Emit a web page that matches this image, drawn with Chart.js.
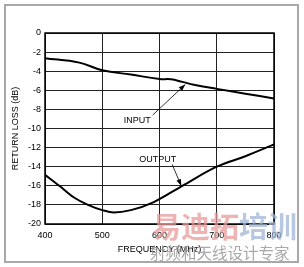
<!DOCTYPE html>
<html>
<head>
<meta charset="utf-8">
<script src="https://cdn.jsdelivr.net/npm/chart.js@4"></script>
<style>
  html, body { margin: 0; padding: 0; background: #fff; }
  #wrap { position: relative; width: 304px; height: 267px; }
  #frame { position: absolute; left: 4px; top: 4px; width: 291px; height: 255px; border: 2px solid #a8a8a8; }
  .wm { position: absolute; font-family: "Noto Sans CJK SC", sans-serif; font-weight: bold; white-space: nowrap; }
</style>
</head>
<body>
<div id="wrap">
  <canvas id="rlChart" width="304" height="267"></canvas>
  <div id="frame"></div>
  <div class="wm" style="left:152px; top:208px; font-size:29px; line-height:34px; opacity:0.75;"><span style="color:#e89a9a">易迪拓</span><span style="color:#9fb6d6">培训</span></div>
  <div class="wm" style="left:150px; top:243px; font-size:15.5px; line-height:18px; color:#9a9a9a; font-weight:normal; opacity:0.85;">射频和天线设计专家</div>
</div>
<script>
// 数据
const inputFreq = [400, 460, 500, 550, 600, 620, 640, 660, 700, 750, 800];
const inputLoss = [-2.64, -3.1, -3.9, -4.35, -4.82, -4.85, -5.12, -5.42, -5.85, -6.35, -6.85];
const outputFreq = [400, 425, 450, 475, 500, 520, 550, 590, 640, 700, 750, 800];
const outputLoss = [-14.86, -16.0, -17.2, -18.0, -18.55, -18.8, -18.55, -17.7, -16.0, -14.0, -12.9, -11.67];
const xTicks = [400, 500, 600, 700, 800];
const yTicks = [0, -2, -4, -6, -8, -10, -12, -14, -16, -18, -20];

// 标注 (数据坐标)
const notes = [
    { text: 'INPUT', x: 561, y: -9.2, from: [588, -8.6], to: [645, -5.4] },
    { text: 'OUTPUT', x: 597, y: -13.2, from: [622, -13.75], to: [638, -16.0] }
];

const font = { family: 'Arial, "Liberation Sans", sans-serif', size: 9 };

const notePlugin = {
    id: 'notes',
    afterDatasetsDraw(chart) {
        const c = chart.ctx;
        const xs = chart.scales.x, ys = chart.scales.y;
        c.save();
        c.font = '9px Arial, "Liberation Sans", sans-serif';
        c.fillStyle = '#000';
        c.strokeStyle = '#000';
        c.textAlign = 'center';
        c.textBaseline = 'middle';
        notes.forEach(n => {
            c.fillText(n.text, xs.getPixelForValue(n.x), ys.getPixelForValue(n.y));
            const x1 = xs.getPixelForValue(n.from[0]), y1 = ys.getPixelForValue(n.from[1]);
            const x2 = xs.getPixelForValue(n.to[0]), y2 = ys.getPixelForValue(n.to[1]);
            c.lineWidth = 0.8;
            c.beginPath();
            c.moveTo(x1, y1);
            c.lineTo(x2, y2);
            c.stroke();
            const a = Math.atan2(y2 - y1, x2 - x1);
            c.beginPath();
            c.moveTo(x2, y2);
            c.lineTo(x2 - 7 * Math.cos(a - 0.35), y2 - 7 * Math.sin(a - 0.35));
            c.lineTo(x2 - 7 * Math.cos(a + 0.35), y2 - 7 * Math.sin(a + 0.35));
            c.closePath();
            c.fill();
        });
        // 外框
        const ca = chart.chartArea;
        c.lineWidth = 1.5;
        c.strokeRect(ca.left, ca.top, ca.right - ca.left, ca.bottom - ca.top);
        c.restore();
    }
};

const ctx = document.getElementById('rlChart').getContext('2d');
const rlChart = new Chart(ctx, {
    type: 'line',
    data: {
        datasets: [{
            label: 'INPUT',
            data: inputFreq.map((f, i) => ({ x: f, y: inputLoss[i] })),
            borderColor: '#000',
            borderWidth: 2,
            pointRadius: 0,
            tension: 0.4,
            fill: false
        }, {
            label: 'OUTPUT',
            data: outputFreq.map((f, i) => ({ x: f, y: outputLoss[i] })),
            borderColor: '#000',
            borderWidth: 2,
            pointRadius: 0,
            cubicInterpolationMode: 'monotone',
            fill: false
        }]
    },
    options: {
        responsive: false,
        animation: false,
        layout: { padding: { left: 0, top: 33, right: 30, bottom: 0 } },
        plugins: {
            legend: { display: false },
            tooltip: { enabled: false }
        },
        scales: {
            x: {
                type: 'linear',
                min: 400,
                max: 800,
                afterFit: s => { s.height = 43; },
                afterBuildTicks: s => { s.ticks = xTicks.map(v => ({ value: v })); },
                ticks: { color: '#000', font: font, padding: 6, maxRotation: 0 },
                grid: { color: '#222', lineWidth: 1, drawTicks: false },
                border: { display: false },
                title: {
                    display: true,
                    text: 'FREQUENCY (MHz)',
                    color: '#000',
                    font: font,
                    padding: { top: 0, bottom: 12 }
                }
            },
            y: {
                min: -20,
                max: 0,
                afterFit: s => { s.width = 45; },
                afterBuildTicks: s => { s.ticks = yTicks.map(v => ({ value: v })); },
                ticks: { color: '#000', font: font, padding: 4 },
                grid: { color: '#222', lineWidth: 1, drawTicks: false },
                border: { display: false },
                title: {
                    display: true,
                    text: 'RETURN LOSS (dB)',
                    color: '#000',
                    font: font,
                    padding: { top: 10, bottom: 0 }
                }
            }
        }
    },
    plugins: [notePlugin]
});
</script>
</body>
</html>
